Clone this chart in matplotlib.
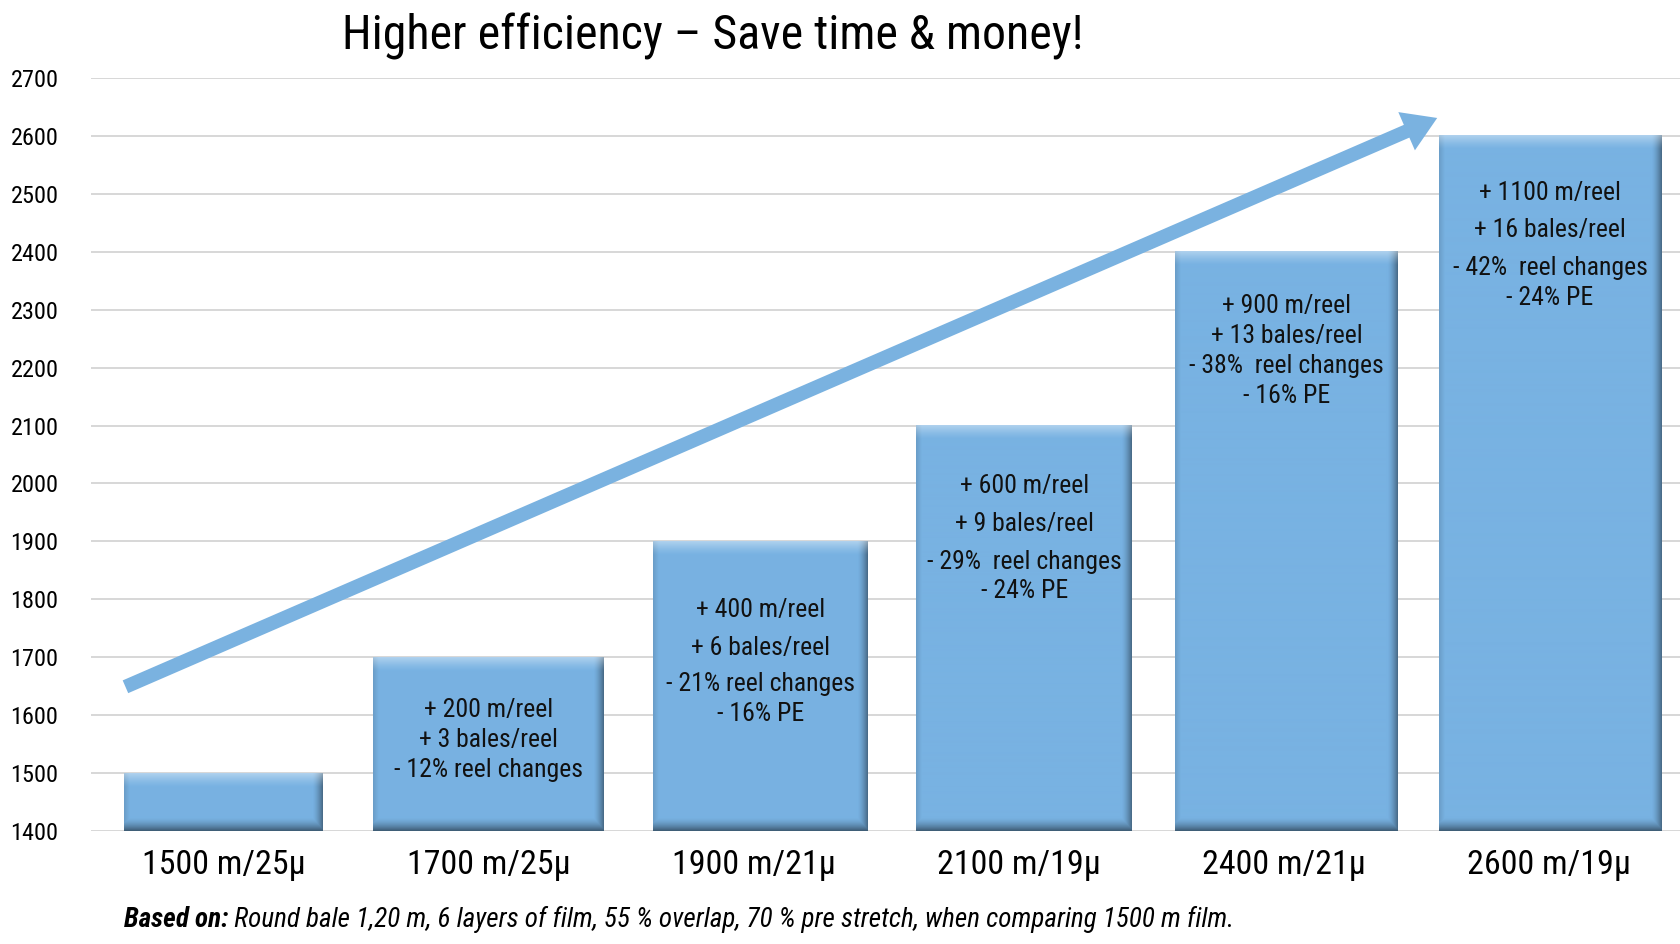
import numpy as np
import matplotlib
matplotlib.use("Agg")
import matplotlib.pyplot as plt
from matplotlib import font_manager
from matplotlib.patches import FancyArrowPatch

# ---- data ----
categories = ["1500 m/25µ", "1700 m/25µ", "1900 m/21µ", "2100 m/19µ", "2400 m/21µ", "2600 m/19µ"]
values = [1500, 1700, 1900, 2100, 2400, 2600]
annotations = [
    [],
    ["+ 200 m/reel", "+ 3 bales/reel", "- 12% reel changes"],
    ["+ 400 m/reel", "+ 6 bales/reel", "- 21% reel changes", "- 16% PE"],
    ["+ 600 m/reel", "+ 9 bales/reel", "- 29%  reel changes", "- 24% PE"],
    ["+ 900 m/reel", "+ 13 bales/reel", "- 38%  reel changes", "- 16% PE"],
    ["+ 1100 m/reel", "+ 16 bales/reel", "- 42%  reel changes", "- 24% PE"],
]
yticks = list(range(1400, 2701, 100))
title = "Higher efficiency – Save time & money!"
note_bold = "Based on:"
note_rest = " Round bale 1,20 m, 6 layers of film, 55 % overlap, 70 % pre stretch, when comparing 1500 m film."
arrow_start = (-0.37, 1649)
arrow_end = (4.58, 2631)

# ---- styles ----
bar_widths = [0.75, 0.87, 0.81, 0.815, 0.84, 0.84]
bar_shift = [0.0, 0.0, 0.026, 0.022, 0.012, 0.006]
first_line_px = [0, 53, 69, 60, 54, 57]
line_gaps_px = [[], [30, 30], [38, 36, 30], [38, 38, 29], [30, 30, 30], [37, 38, 30]]
bar_color = np.array([120, 178, 226]) / 255.0
arrow_color = "#7AB2E0"

avail = {f.name for f in font_manager.fontManager.ttflist}
font = "DejaVu Sans"
for cand in ["Liberation Sans Narrow", "DejaVu Sans Condensed", "Roboto Condensed", "DejaVu Sans"]:
    if cand in avail:
        font = cand
        break
narrow = font != "DejaVu Sans"
plt.rcParams["font.family"] = [font, "DejaVu Sans"]

W, H, DPI = 1681, 944, 100
fig = plt.figure(figsize=(W / DPI, H / DPI), dpi=DPI)
ax = fig.add_axes([91 / W, 1 - 831 / H, 1 - 91 / W, (831 - 78) / H])
ax.set_xlim(-0.5, 5.5)
ax.set_ylim(1400, 2700)
ax.set_yticks(yticks)
ax.set_xticks(range(len(categories)))
ax.set_xticklabels(categories, fontsize=24.5 if narrow else 19)
for s in ax.spines.values():
    s.set_visible(False)
ax.tick_params(axis="both", length=0)
ax.tick_params(axis="y", labelsize=17.5 if narrow else 13)
ax.tick_params(axis="x", pad=13)
for lbl in ax.get_yticklabels():
    lbl.set_horizontalalignment("left")
ax.yaxis.set_tick_params(pad=58)
ax.grid(axis="y", color="#D4D4D4", lw=1.3, zorder=0)
ax.set_axisbelow(True)

x = np.arange(len(values))
bars = ax.bar(x + np.array(bar_shift), [v - 1400 for v in values], bottom=1400, width=bar_widths,
              color=bar_color, zorder=2, linewidth=0)

# gradient shading overlay on each bar
for b in bars:
    x0, y0 = b.get_x(), b.get_y()
    x1, y1 = x0 + b.get_width(), y0 + b.get_height()
    p0 = ax.transData.transform((x0, y0))
    p1 = ax.transData.transform((x1, y1))
    wp = max(int(round(p1[0] - p0[0])), 2)
    hp = max(int(round(p1[1] - p0[1])), 2)
    xx = np.arange(wp)[None, :] + 0.5
    yy = np.arange(hp)[:, None] + 0.5  # row 0 = top
    d_top = yy
    d_bot = hp - yy
    d_right = wp - xx
    d_left = xx
    dark = np.maximum(0.5 * np.clip(1 - d_bot / 14.0, 0, 1) ** 1.6,
                      0.42 * np.clip(1 - d_right / 11.0, 0, 1) ** 1.6)
    dark = np.maximum(dark, 0.12 * np.clip(1 - d_left / 6.0, 0, 1))
    light = 0.42 * np.clip(1 - d_top / 14.0, 0, 1) ** 1.3
    img = np.ones((hp, wp, 3)) * bar_color
    img = img * (1 - dark[..., None])
    img = img + (1 - img) * light[..., None]
    ax.imshow(img, extent=(x0, x1, y0, y1), aspect="auto", zorder=3,
              interpolation="bilinear")

ax.set_xlim(-0.5, 5.5)
ax.set_ylim(1400, 2700)

# annotations inside bars
ann_size = 18.5 if narrow else 14
for i, lines in enumerate(annotations):
    off = first_line_px[i]
    for j, line in enumerate(lines):
        if j > 0:
            off += line_gaps_px[i][j - 1]
        ax.annotate(line, xy=(x[i] + bar_shift[i], values[i]), xytext=(0, -off * 72 / DPI),
                    textcoords="offset points", ha="center", va="center",
                    fontsize=ann_size, color="#111111", zorder=5)

# arrow
arr = FancyArrowPatch(arrow_start, arrow_end,
                      arrowstyle="simple,tail_width=10,head_width=30,head_length=24",
                      mutation_scale=1, color=arrow_color, lw=0, zorder=4,
                      shrinkA=0, shrinkB=0)
ax.add_patch(arr)

# title
fig.text(713 / W, 1 - 36 / H, title, ha="center", va="center",
         fontsize=34.5 if narrow else 25, color="black")

# footnote
t1 = fig.text(124 / W, 1 - 927 / H, note_bold, ha="left", va="baseline",
              fontsize=19.5 if narrow else 13, fontweight="bold", fontstyle="italic")
fig.canvas.draw()
ax.annotate(note_rest, xy=(1, 0), xycoords=t1, ha="left", va="bottom",
            fontsize=19.5 if narrow else 13, fontstyle="italic", annotation_clip=False)

fig.savefig("out.png", dpi=DPI)
print("font:", font)
